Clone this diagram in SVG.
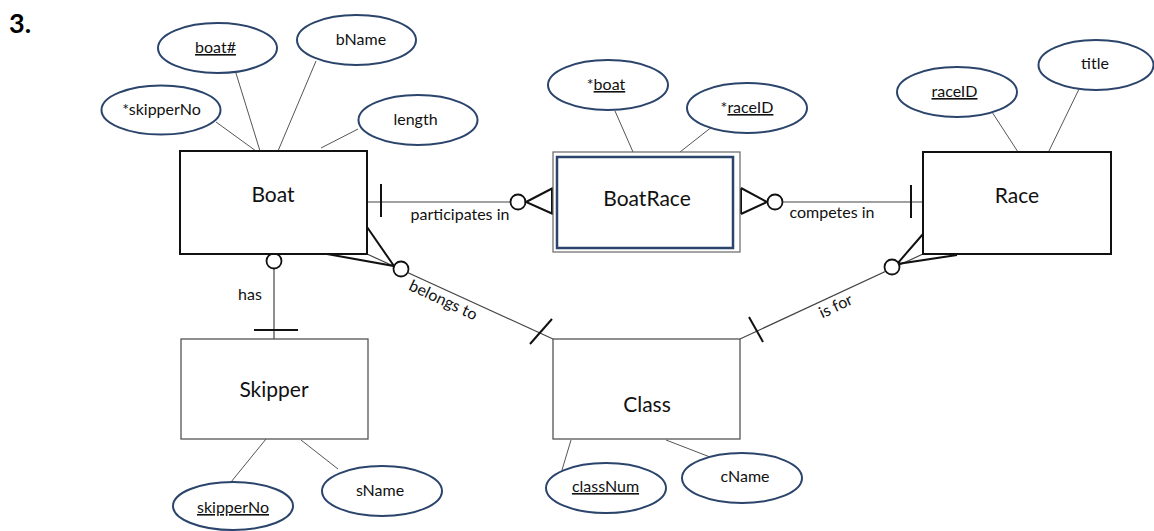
<svg xmlns="http://www.w3.org/2000/svg" width="1154" height="531" viewBox="0 0 1154 531">
  <style>
    text { font-family: Lato, "Liberation Sans", sans-serif; fill: #111; }
    .num { font-size: 27px; font-weight: bold; fill: #000; }
    .ent { font-size: 21px; text-anchor: middle; }
    .att { font-size: 16px; text-anchor: middle; }
    .lbl { font-size: 16px; text-anchor: middle; }
    .key { text-decoration: underline; }
    .attr-shape { fill: #fff; stroke: #2b446b; stroke-width: 2; }
    .attr-link { stroke: #555; stroke-width: 1; fill: none; }
    .strong { fill: #fff; stroke: #111; stroke-width: 2; }
    .plain { fill: #fff; stroke: #555; stroke-width: 1.3; }
    .conn { stroke: #444; stroke-width: 1.2; fill: none; }
    .mark { stroke: #111; stroke-width: 2; fill: none; }
    .ring { stroke: #111; stroke-width: 1.8; fill: #fff; }
  </style>

  <text class="num" x="9" y="33">3.</text>

  <!-- attribute links -->
  <g id="attribute-links">
    <line class="attr-link" x1="216" y1="122" x2="256" y2="151"/>
    <line class="attr-link" x1="235" y1="70" x2="260" y2="151"/>
    <line class="attr-link" x1="316" y1="61" x2="278" y2="151"/>
    <line class="attr-link" x1="358" y1="129" x2="321" y2="148"/>
    <line class="attr-link" x1="615" y1="111" x2="633" y2="152"/>
    <line class="attr-link" x1="713" y1="126" x2="680" y2="152"/>
    <line class="attr-link" x1="992" y1="112" x2="1018" y2="152"/>
    <line class="attr-link" x1="1080" y1="87" x2="1048" y2="153"/>
    <line class="attr-link" x1="266" y1="439" x2="231" y2="482"/>
    <line class="attr-link" x1="301" y1="440" x2="338" y2="469"/>
    <line class="attr-link" x1="571" y1="440" x2="562" y2="470"/>
    <line class="attr-link" x1="666" y1="440" x2="710" y2="457"/>
  </g>

  <!-- relationships -->
  <g id="connectors">
    <!-- Boat participates in BoatRace -->
    <line class="conn" x1="367" y1="202" x2="511" y2="202"/>
    <line class="mark" x1="381" y1="184" x2="381" y2="217"/>
    <circle class="ring" cx="518" cy="202" r="7.5"/>
    <polyline class="mark" points="553,188 526,202 553,214"/>
    <line class="mark" x1="552" y1="188" x2="552" y2="214" stroke-width="2.5"/>

    <!-- Race competes in BoatRace -->
    <polyline class="mark" points="741,188 767,202 741,214"/>
    <line class="mark" x1="741" y1="188" x2="741" y2="214" stroke-width="2.5"/>
    <circle class="ring" cx="775" cy="202" r="7.5"/>
    <line class="conn" x1="783" y1="202" x2="923" y2="202"/>
    <line class="mark" x1="911" y1="185" x2="911" y2="218"/>

    <!-- Boat has Skipper -->
    <line class="conn" x1="274" y1="268" x2="274" y2="339"/>
    <circle class="ring" cx="274" cy="261" r="7.5"/>
    <line class="mark" x1="254" y1="330" x2="298" y2="330"/>

    <!-- Boat belongs to Class -->
    <line class="conn" x1="367" y1="254" x2="553" y2="339"/>
    <polyline class="mark" points="367,227 394,266 327,254"/>
    <circle class="ring" cx="401" cy="269" r="7.5"/>
    <line class="mark" x1="530" y1="344" x2="552" y2="319"/>

    <!-- Class is for Race -->
    <line class="conn" x1="740" y1="339" x2="923" y2="254"/>
    <polyline class="mark" points="923,234 897,264 957,255"/>
    <circle class="ring" cx="892" cy="267" r="7.5"/>
    <line class="mark" x1="749" y1="317" x2="763" y2="342"/>

    <text class="lbl" x="460" y="220">participates in</text>
    <text class="lbl" x="832" y="218">competes in</text>
    <text class="lbl" x="250" y="300">has</text>
    <text class="lbl" transform="translate(441,305) rotate(25)">belongs to</text>
    <text class="lbl" transform="translate(838,311) rotate(-25.5)">is for</text>
  </g>

  <!-- Boat -->
  <g id="boat">
    <rect class="strong" x="180" y="151" width="187" height="103"/>
    <text class="ent" x="273" y="202">Boat</text>
    <ellipse class="attr-shape" cx="217.5" cy="48" rx="59.5" ry="25"/>
    <text class="att" x="215.5" y="53"><tspan class="key">boat#</tspan></text>
    <ellipse class="attr-shape" cx="356.5" cy="40" rx="59.5" ry="25"/>
    <text class="att" x="361" y="45">bName</text>
    <ellipse class="attr-shape" cx="161" cy="110" rx="59.5" ry="24.5"/>
    <text class="att" x="161.5" y="115">*skipperNo</text>
    <ellipse class="attr-shape" cx="418" cy="120" rx="59.5" ry="25"/>
    <text class="att" x="415.5" y="125">length</text>
  </g>

  <!-- BoatRace (weak entity) -->
  <g id="boatrace">
    <rect x="553" y="152" width="187" height="100" fill="#fff" stroke="#666" stroke-width="1.2"/>
    <rect x="557" y="157" width="176" height="91" fill="#fff" stroke="#2b446b" stroke-width="2.5"/>
    <text class="ent" x="647" y="206">BoatRace</text>
    <ellipse class="attr-shape" cx="608" cy="85" rx="60" ry="25"/>
    <text class="att" x="606" y="90">*<tspan class="key">boat</tspan></text>
    <ellipse class="attr-shape" cx="747" cy="108" rx="60" ry="25"/>
    <text class="att" x="747" y="113">*<tspan class="key">raceID</tspan></text>
  </g>

  <!-- Race -->
  <g id="race">
    <rect class="strong" x="923" y="152" width="188" height="102"/>
    <text class="ent" x="1017" y="203">Race</text>
    <ellipse class="attr-shape" cx="957" cy="92" rx="60" ry="25"/>
    <text class="att" x="954.5" y="97"><tspan class="key">raceID</tspan></text>
    <ellipse class="attr-shape" cx="1096" cy="65" rx="57.5" ry="25"/>
    <text class="att" x="1095" y="69">title</text>
  </g>

  <!-- Skipper -->
  <g id="skipper">
    <rect class="plain" x="181" y="339" width="187" height="100"/>
    <text class="ent" x="274" y="397">Skipper</text>
    <ellipse class="attr-shape" cx="233" cy="506" rx="60" ry="24"/>
    <text class="att" x="233" y="513"><tspan class="key">skipperNo</tspan></text>
    <ellipse class="attr-shape" cx="382" cy="491" rx="60" ry="25"/>
    <text class="att" x="380" y="496">sName</text>
  </g>

  <!-- Class -->
  <g id="class">
    <rect class="plain" x="553" y="339" width="187" height="100"/>
    <text class="ent" x="647" y="412">Class</text>
    <ellipse class="attr-shape" cx="606" cy="488" rx="60" ry="25"/>
    <text class="att" x="605.5" y="492"><tspan class="key">classNum</tspan></text>
    <ellipse class="attr-shape" cx="742" cy="478" rx="60" ry="25"/>
    <text class="att" x="745" y="482">cName</text>
  </g>
</svg>
